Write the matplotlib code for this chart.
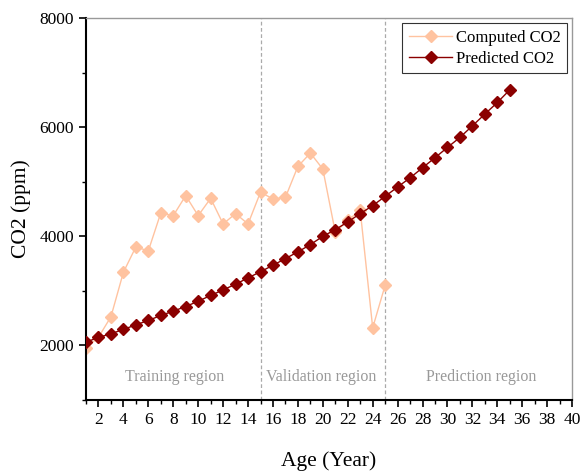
import matplotlib
matplotlib.use("Agg")
import matplotlib.pyplot as plt
from matplotlib.ticker import MultipleLocator

plt.rcParams['font.family'] = ['Liberation Serif', 'DejaVu Serif']

computed_age = list(range(1, 26))
computed_co2 = [1950, 2150, 2525, 3340, 3805, 3732, 4427, 4378, 4744, 4378,
                4695, 4226, 4415, 4226, 4808, 4683, 4713, 5280, 5524, 5232,
                4073, 4292, 4475, 2323, 3103]

predicted_age = list(range(1, 36))
predicted_co2 = [2061, 2146, 2214, 2293, 2378, 2457, 2549, 2628, 2713, 2810,
                 2915, 3018, 3121, 3238, 3350, 3469, 3591, 3714, 3847, 3999,
                 4122, 4262, 4415, 4561, 4731, 4903, 5070, 5256, 5439, 5628,
                 5811, 6024, 6238, 6451, 6683]

region_bounds = [15, 25]
region_labels = ["Training region", "Validation region", "Prediction region"]
region_label_x = [8.1, 19.9, 32.7]
region_label_y = 1420

fig = plt.figure(figsize=(5.85, 4.72), dpi=100)
ax = fig.add_axes([0.147, 0.1525, 0.831, 0.8095])

ax.plot(computed_age, computed_co2, color='#FFC3A0', lw=1.0, marker='D', ms=6,
        markeredgecolor='#FFC3A0', markerfacecolor='#FFC3A0', label='Computed CO2', zorder=2)
ax.plot(predicted_age, predicted_co2, color='#8B0000', lw=1.0, marker='D', ms=6,
        markeredgecolor='#8B0000', markerfacecolor='#8B0000', label='Predicted CO2', zorder=3)

for b in region_bounds:
    ax.axvline(b, color='#AAAAAA', lw=0.9, linestyle=(0, (3, 2)), zorder=1)

for lx, lab in zip(region_label_x, region_labels):
    ax.text(lx, region_label_y, lab, ha='center', va='center', color='#999999', fontsize=11.5)

ax.set_xlim(1, 40)
ax.set_ylim(1000, 8000)
ax.xaxis.set_minor_locator(MultipleLocator(1))
ax.yaxis.set_minor_locator(MultipleLocator(1000))
ax.set_xticks(range(2, 41, 2))
ax.set_yticks([2000, 4000, 6000, 8000])

ax.tick_params(which='major', direction='out', length=5, width=1.2, labelsize=12.5, color='black')
ax.tick_params(which='minor', direction='out', length=3, width=1.0, color='black')

for s in ['left', 'bottom']:
    ax.spines[s].set_color('black')
    ax.spines[s].set_linewidth(1.5)
for s in ['top', 'right']:
    ax.spines[s].set_color('#999999')
    ax.spines[s].set_linewidth(1.0)

ax.set_xlabel('Age (Year)', fontsize=15.5, labelpad=17)
ax.set_ylabel('CO2 (ppm)', fontsize=15.5, labelpad=6)

leg = ax.legend(loc='upper right', fontsize=12, frameon=True, fancybox=False,
                edgecolor='black', handlelength=2.6, borderaxespad=0.3,
                borderpad=0.4, labelspacing=0.3, handletextpad=0.2)
leg.get_frame().set_linewidth(0.8)

fig.savefig('out.png', dpi=100)
